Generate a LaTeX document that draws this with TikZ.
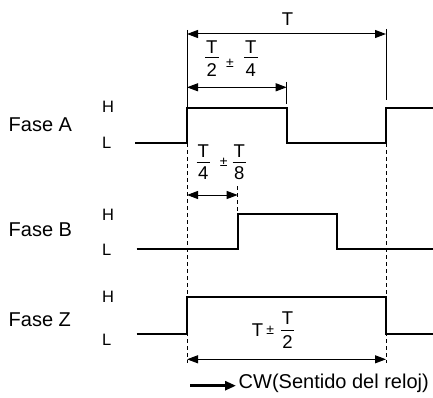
\documentclass[tikz,border=0pt]{standalone}
\usepackage{fontspec}
\setmainfont{Liberation Sans}
\usetikzlibrary{arrows.meta}
\begin{document}
\begin{tikzpicture}[x=1pt,y=-1pt,
  sig/.style={line width=2.2pt, line join=miter},
  dimarrow/.style={line width=1pt, {Triangle[length=11pt,width=8pt]}-{Triangle[length=11pt,width=8pt]}},
  ext/.style={line width=0.9pt},
  dashext/.style={line width=0.9pt, dash pattern=on 4pt off 3pt},
  bar/.style={line width=1pt},
  lbl/.style={inner sep=0pt, anchor=west, font=\fontsize{20}{20}\selectfont},
  hl/.style={inner sep=0pt, anchor=west, font=\fontsize{16.5}{16.5}\selectfont},
  num/.style={inner sep=0pt, font=\fontsize{18.5}{18.5}\selectfont},
  pm/.style={inner sep=0pt, font=\fontsize{14}{14}\selectfont},
]
\useasboundingbox (0,0) rectangle (433,398);

% phase labels
\node[lbl] (fa) at (8.5,124.3) {Fase A};
\node[lbl] (fb) at (8.5,230) {Fase B};
\node[lbl] (fz) at (8.5,319.3) {Fase Z};

\node[hl] (ha) at (102,106.7) {H};
\node[hl] (la) at (102,143.3) {L};
\node[hl] (hb) at (102,215) {H};
\node[hl] (lb) at (102,249.7) {L};
\node[hl] (hz) at (102,297) {H};
\node[hl] (lz) at (102,340) {L};

% extension lines
\draw[ext] (187,30) -- (187,108.3);
\draw[ext] (386,29) -- (386,100);
\draw[ext] (286.7,82) -- (286.7,104);
\draw[dashext] (187,143) -- (187,363);
\draw[dashext] (386,143) -- (386,363);
\draw[dashext] (237.7,186) -- (237.7,214);

% signals
\draw[sig] (135,142.7) -- (187,142.7) -- (187,108.3) -- (286.7,108.3) -- (286.7,142.7) -- (386,142.7) -- (386,108.3) -- (433,108.3);
\draw[sig] (136.7,249.3) -- (237.7,249.3) -- (237.7,214.3) -- (336.7,214.3) -- (336.7,249.3) -- (433,249.3);
\draw[sig] (136.7,334) -- (187,334) -- (187,297.3) -- (386,297.3) -- (386,334) -- (433,334);

% dimension arrows
\coordinate (t1) at (187,34);  \coordinate (t2) at (386,34);
\draw[dimarrow] (t1) -- (t2);
\node[num] (tlab) at (287.5,18.8) {T};

\coordinate (h1) at (187,87.3); \coordinate (h2) at (286.7,87.3);
\draw[dimarrow] (h1) -- (h2);
\node[num] (n1) at (211.7,47.5) {T};
\draw[bar] (205,57.3) -- (219.3,57.3);
\node[num] (d1) at (211.7,69.7) {2};
\node[pm] (pm1) at (230,63.3) {±};
\node[num] (n2) at (250.8,47.5) {T};
\draw[bar] (244,57.3) -- (258,57.3);
\node[num] (d2) at (250.8,69.7) {4};

\coordinate (q1) at (187,195); \coordinate (q2) at (237.7,195);
\draw[dimarrow] (q1) -- (q2);
\node[num] (n3) at (203.3,150.8) {T};
\draw[bar] (196.7,162.7) -- (209.8,162.7);
\node[num] (d3) at (203.3,173.3) {4};
\node[pm] (pm2) at (223.7,162.5) {±};
\node[num] (n4) at (239.2,150.8) {T};
\draw[bar] (232.6,162.7) -- (245.8,162.7);
\node[num] (d4) at (239.2,173.3) {8};

\coordinate (z1) at (187,359.3); \coordinate (z2) at (386,359.3);
\draw[dimarrow] (z1) -- (z2);
\node[num] (zt) at (257.5,330) {T};
\node[pm] (pm3) at (270.3,330) {±};
\node[num] (n5) at (287.5,318.3) {T};
\draw[bar] (281,330.5) -- (294,330.5);
\node[num] (d5) at (287.5,342) {2};

% CW arrow
\coordinate (cw1) at (190,385.7);
\coordinate (cw2) at (236,385.7);
\draw[line width=2.6pt, -{Triangle[length=11pt,width=9pt]}] (cw1) -- (cw2);
\node[inner sep=0pt, anchor=base west, font=\fontsize{20}{20}\selectfont] (cw) at (238.5,388.3) {CW(Sentido del reloj)};
\end{tikzpicture}
\end{document}
